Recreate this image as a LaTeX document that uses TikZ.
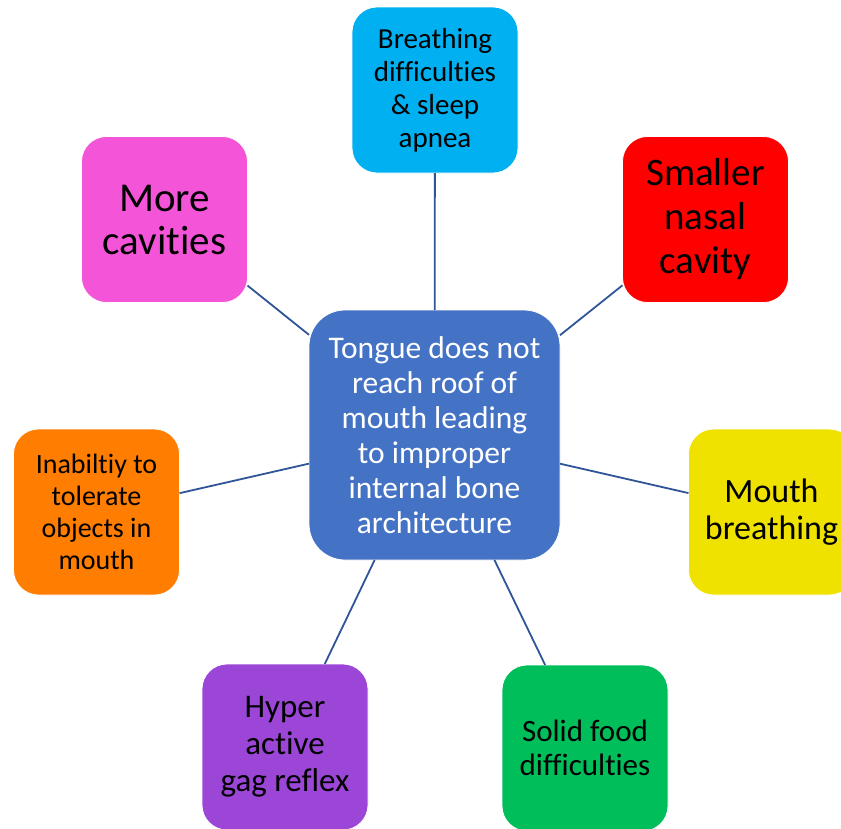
\documentclass[tikz,border=0pt]{standalone}
\usepackage{fontspec}
\setmainfont{Carlito}[Ligatures=NoCommon]
\definecolor{cblue}{HTML}{4472C4}
\definecolor{ccyan}{HTML}{00B0F0}
\definecolor{cred}{HTML}{FF0000}
\definecolor{cyellow}{HTML}{EFE200}
\definecolor{cgreen}{HTML}{00BE5A}
\definecolor{cpurple}{HTML}{9C46D8}
\definecolor{corange}{HTML}{FF7D00}
\definecolor{cpink}{HTML}{F455D8}
\definecolor{cline}{HTML}{2F5597}
\tikzset{
  leaf/.style={rectangle, rounded corners=25pt, minimum width=166pt, minimum height=166pt,
    inner sep=0pt, outer sep=0pt, draw=white, line width=0.8pt, align=center, text=black},
  hub/.style={rectangle, rounded corners=36pt, minimum width=251pt, minimum height=250pt,
    inner sep=0pt, outer sep=0pt, draw=white, line width=0.8pt, fill=cblue, align=center, text=white,
    font=\fontsize{31.5}{35}\selectfont},
  link/.style={draw=cline, line width=1.8pt}
}
\begin{document}
\begin{tikzpicture}[x=1pt,y=-1pt]
\useasboundingbox (0,0) rectangle (841,828);
\clip (0,0) rectangle (841,828);
\node[hub] (c) at (434.5,435) {Tongue does not\\reach roof of\\mouth leading\\to improper\\internal bone\\architecture};
\node[leaf, fill=ccyan, font=\fontsize{29}{33}\selectfont] (top) at (435,90) {Breathing\\difficulties\\\& sleep\\apnea};
\node[leaf, fill=cred, font=\fontsize{39}{44}\selectfont] (tr) at (705.5,219.5) {Smaller\\nasal\\cavity};
\node[leaf, fill=cpink, font=\fontsize{41}{43}\selectfont] (tl) at (164.5,219.5) {More\\cavities};
\node[leaf, fill=corange, font=\fontsize{28}{32}\selectfont] (lf) at (96.5,512) {Inabiltiy to\\tolerate\\objects in\\mouth};
\node[leaf, fill=cyellow, font=\fontsize{34}{37}\selectfont] (rt) at (771.5,512) {Mouth\\breathing};
\node[leaf, fill=cgreen, font=\fontsize{31}{34}\selectfont] (br) at (585,748) {Solid food\\difficulties};
\node[leaf, fill=cpurple, font=\fontsize{33}{37}\selectfont] (bl) at (285,747) {Hyper\\active\\gag reflex};
\draw[link] (c) -- (top);
\draw[link] (c) -- (tr);
\draw[link] (c) -- (tl);
\draw[link] (c) -- (lf);
\draw[link] (c) -- (rt);
\draw[link] (c) -- (br);
\draw[link] (c) -- (bl);
\end{tikzpicture}
\end{document}
